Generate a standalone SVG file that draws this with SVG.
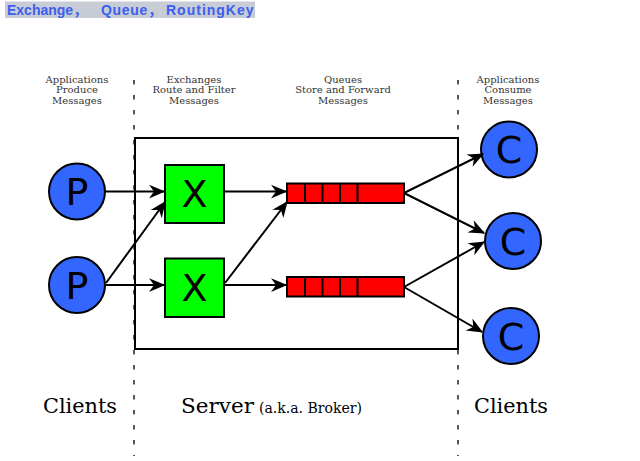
<svg xmlns="http://www.w3.org/2000/svg" width="640" height="461" viewBox="0 0 640 461">
<style>
.hdr{font-family:"DejaVu Serif",serif;font-size:10px;fill:#333;text-anchor:middle}
.big{font-family:"DejaVu Serif",serif;font-size:21px;fill:#000}
.node{stroke:#000;stroke-width:2}
.lbl{font-family:"DejaVu Sans",sans-serif;font-size:38px;fill:#000;text-anchor:middle}
.dash{stroke:#000;stroke-width:1.3;stroke-dasharray:4.5 10.5}
.conn line{stroke:#000;stroke-width:2;marker-end:url(#ah)}
</style>
<defs>
<marker id="ah" markerUnits="userSpaceOnUse" markerWidth="20" markerHeight="20" viewBox="-14 -7 16 14" refX="0" refY="0" orient="auto">
<path d="M1,0 L-12,-5.5 L-8,0 L-12,5.5 Z" fill="#000"/>
</marker>
</defs>
<rect width="640" height="461" fill="#fff"/>
<g id="title">
<rect x="5" y="1.5" width="250" height="16.5" fill="#c8ccd5"/>
<text y="15" font-family="Liberation Sans,Arial,Noto Sans CJK SC,sans-serif" font-weight="bold" font-size="14" fill="#3b5ff0"><tspan x="7">Exchange，</tspan><tspan x="101" letter-spacing="0.7">Queue，</tspan><tspan x="166" letter-spacing="1">RoutingKey</tspan></text>
</g>
<g id="headers">
<text class="hdr" x="77" y="82.5">Applications</text>
<text class="hdr" x="77" y="93.3">Produce</text>
<text class="hdr" x="77" y="104">Messages</text>
<text class="hdr" x="194" y="82.5">Exchanges</text>
<text class="hdr" x="194" y="93.3">Route and Filter</text>
<text class="hdr" x="194" y="104">Messages</text>
<text class="hdr" x="343" y="82.5">Queues</text>
<text class="hdr" x="343" y="93.3">Store and Forward</text>
<text class="hdr" x="343" y="104">Messages</text>
<text class="hdr" x="508" y="82.5">Applications</text>
<text class="hdr" x="508" y="93.3">Consume</text>
<text class="hdr" x="508" y="104">Messages</text>
</g>
<g id="dividers">
<line class="dash" x1="134" y1="80" x2="134" y2="456"/>
<line class="dash" x1="458" y1="80" x2="458" y2="456"/>
</g>
<g id="server">
<rect x="135" y="138" width="323" height="211" fill="none" stroke="#000" stroke-width="2"/>
</g>
<g id="footer">
<text class="big" x="43" y="413" textLength="74" lengthAdjust="spacingAndGlyphs">Clients</text>
<text class="big" x="181" y="413"><tspan textLength="73" lengthAdjust="spacingAndGlyphs">Server</tspan><tspan x="259" font-size="14" textLength="103" lengthAdjust="spacingAndGlyphs">(a.k.a. Broker)</tspan></text>
<text class="big" x="474" y="413" textLength="74" lengthAdjust="spacingAndGlyphs">Clients</text>
</g>
<g id="p1"><circle class="node" cx="77" cy="191.5" r="28" fill="#3366ff"/><text class="lbl" x="77" y="205">P</text></g>
<g id="p2"><circle class="node" cx="77" cy="285" r="28" fill="#3366ff"/><text class="lbl" x="77" y="298.5">P</text></g>
<g id="x1"><rect class="node" x="165" y="165" width="59" height="58" fill="#00ff00"/><text class="lbl" x="194.5" y="207">X</text></g>
<g id="x2"><rect class="node" x="165" y="258.5" width="59" height="58.5" fill="#00ff00"/><text class="lbl" x="194.5" y="301">X</text></g>
<g id="q1"><rect class="node" x="287" y="183.5" width="117" height="19.5" fill="#ff0000"/><path d="M305,183.5V203M322.5,183.5V203M340,183.5V203M357.5,183.5V203" stroke="#000" stroke-width="2"/></g>
<g id="q2"><rect class="node" x="287" y="277" width="117" height="19.5" fill="#ff0000"/><path d="M305,277V296.5M322.5,277V296.5M340,277V296.5M357.5,277V296.5" stroke="#000" stroke-width="2"/></g>
<g id="c1"><circle class="node" cx="509" cy="149.5" r="28" fill="#3366ff"/><text class="lbl" x="509" y="163">C</text></g>
<g id="c2"><circle class="node" cx="513" cy="241" r="28" fill="#3366ff"/><text class="lbl" x="513" y="254.5">C</text></g>
<g id="c3"><circle class="node" cx="511" cy="336" r="28" fill="#3366ff"/><text class="lbl" x="511" y="349.5">C</text></g>
<g id="connectors" class="conn">
<line x1="105" y1="191.5" x2="164" y2="191.5"/>
<line x1="105" y1="285" x2="164" y2="285"/>
<line x1="106" y1="283" x2="165" y2="202"/>
<line x1="224" y1="191.5" x2="286" y2="191.5"/>
<line x1="224" y1="285" x2="286" y2="285"/>
<line x1="225" y1="283" x2="287" y2="202"/>
<line x1="404" y1="193" x2="483" y2="154"/>
<line x1="404" y1="193" x2="484" y2="233"/>
<line x1="404" y1="287" x2="484" y2="242"/>
<line x1="404" y1="287" x2="482" y2="332"/>
</g>
</svg>
